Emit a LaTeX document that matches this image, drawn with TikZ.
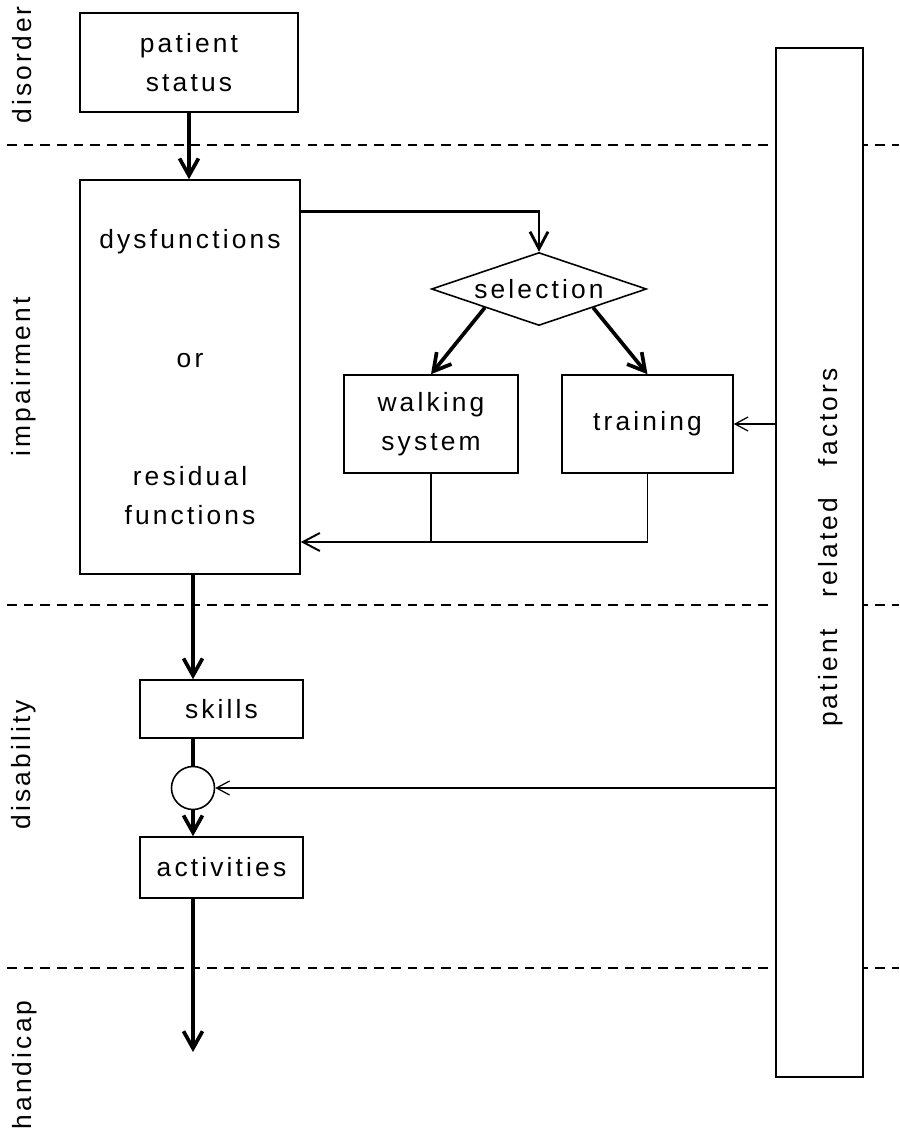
\documentclass[tikz,border=0pt]{standalone}
\usepackage{fontspec}
\setmainfont[LetterSpace=12]{Liberation Sans}
\usepackage{tikz}
\usetikzlibrary{positioning,arrows.meta,shapes.geometric,calc}
\tikzset{
  blk/.style={rectangle, draw, line width=0.9pt, align=center, inner sep=0pt,
    font=\fontsize{15}{22}\selectfont},
  dec/.style={diamond, aspect=2.95, draw, line width=0.9pt, inner sep=0pt,
    minimum width=4.3cm, minimum height=1.46cm, font=\fontsize{15}{22}\selectfont},
  knot/.style={circle, draw, line width=0.9pt, minimum size=0.86cm, inner sep=0pt},
  flow/.style={-{Straight Barb[length=3.4mm,width=3.8mm]}, line width=2.1pt},
  back/.style={-{Straight Barb[length=3.4mm,width=3.6mm]}, line width=1.1pt},
  link/.style={line width=2.1pt},
  feed/.style={-{Straight Barb[length=2.6mm,width=2.8mm]}, line width=0.7pt},
  level/.style={dash pattern=on 5.5pt off 4pt, line width=0.9pt},
  phase/.style={rotate=90, font=\fontsize{15}{22}\selectfont}
}

\begin{document}
\begin{tikzpicture}
  \useasboundingbox (0,0) rectangle (17.98,-22.66);
  \draw[level] (0.14,-2.9) -- (17.98,-2.9);
  \draw[level] (0.14,-12.1) -- (17.98,-12.1);
  \draw[level] (0.14,-19.36) -- (17.98,-19.36);
  \node[phase] (dis) at (0.44,-1.3) {disorder};
  \node[phase] (imp) at (0.47,-7.54) {impairment};
  \node[phase] (abl) at (0.47,-15.3) {disability};
  \node[phase] (hnd) at (0.5,-21.3) {handicap};
  \node[blk, minimum width=4.36cm, minimum height=1.98cm] (status) at (3.78,-1.25) {patient\\status};
  \node[blk, minimum width=4.4cm, minimum height=7.88cm] (dysf) at (3.8,-7.54)
    {dysfunctions\\[1.6cm]or\\[1.6cm]residual\\functions};
  \node[dec] (sel) at (10.78,-5.78) {selection};
  \node[blk, minimum width=3.48cm, minimum height=1.96cm] (walk) at (8.62,-8.48) {walking\\system};
  \node[blk, minimum width=3.42cm, minimum height=1.96cm] (train) at (12.95,-8.48) {training};
  \node[blk, minimum width=3.26cm, minimum height=1.16cm] (skills) at (4.43,-14.18) {skills};
  \node[knot] (circ) at (3.86,-15.76) {};
  \node[blk, minimum width=3.26cm, minimum height=1.22cm] (act) at (4.43,-17.35) {activities};
  \node[blk, fill=white, minimum width=1.74cm, minimum height=20.58cm] (factors) at (16.39,-11.25) {};
  \node[phase] (flabel) at (16.62,-10.95) {patient\ \ \ related\ \ \ factors};
  \coordinate (fb) at (12.95,-10.84);
  \coordinate (hend) at (3.86,-21.04);
  \draw[flow] (status.south) -- (status.south |- dysf.north);
  \draw[back, line width=1.6pt] ([yshift=-0.64cm]dysf.north east) -| (sel.north);
  \draw[flow] (sel.south west) -- (walk.north);
  \draw[flow] (sel.south east) -- (train.north);
  \draw[line width=1.1pt] (walk.south) -- (walk.south |- fb);
  \draw[back] (train.south) -- (fb) -- (fb -| dysf.east);
  \draw[flow] (circ |- dysf.south) -- (circ |- skills.north);
  \draw[link] (circ |- skills.south) -- (circ.north);
  \draw[flow] (circ.south) -- (circ |- act.north);
  \draw[flow] (circ |- act.south) -- (hend);
  \draw[feed] (factors.west |- train.east) -- (train.east);
  \draw[feed] (factors.west |- circ.east) -- (circ.east);
\end{tikzpicture}
\end{document}
